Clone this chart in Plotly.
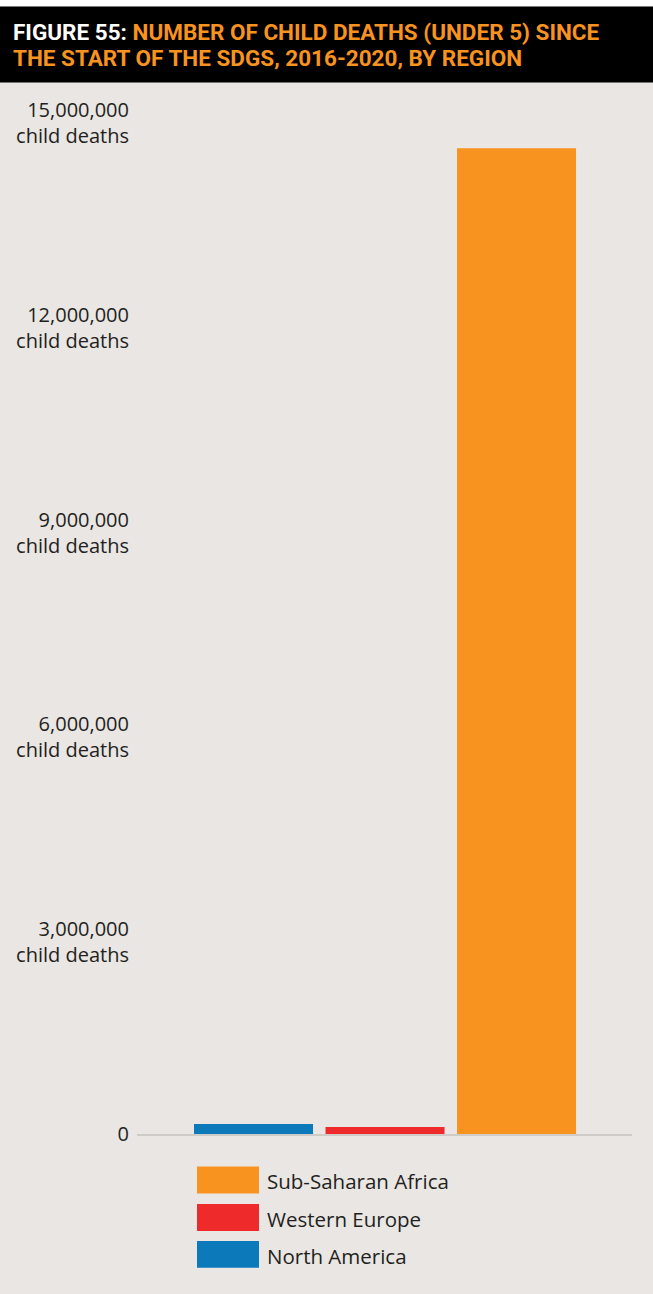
import plotly.graph_objects as go

# ---- data ----
regions = ["North America", "Western Europe", "Sub-Saharan Africa"]
deaths = [148000, 102000, 14440000]
colors = ["#0c79bb", "#ee2a2b", "#f7931e"]
tick_values = [0, 3000000, 6000000, 9000000, 12000000, 15000000]
tick_labels = ["0<br>\u00a0", "3,000,000<br>child deaths", "6,000,000<br>child deaths",
               "9,000,000<br>child deaths", "12,000,000<br>child deaths",
               "15,000,000<br>child deaths"]
legend_order = ["Sub-Saharan Africa", "Western Europe", "North America"]
title_line1_white = "FIGURE 55: "
title_line1 = "NUMBER OF CHILD DEATHS (UNDER 5) SINCE"
title_line2 = "THE START OF THE SDGS, 2016-2020, BY REGION"

W, H = 653, 1294
ML, MR, MT, MB = 137, 21, 109.5, 159.5
PW, PH = W - ML - MR, H - MT - MB


def px(x):
    return (x - ML) / PW


def py(y):
    return (H - MB - y) / PH


BG = "#e9e6e3"
FONT = "Open Sans"
TFONT = "Roboto"

fig = go.Figure()
for r, v, c in zip(regions, deaths, colors):
    fig.add_trace(go.Bar(x=[r], y=[v], marker=dict(color=c, line=dict(width=0)),
                         name=r, showlegend=False, width=0.905, hoverinfo="skip"))

shapes = [
    dict(type="rect", xref="paper", yref="paper", x0=px(-5), x1=px(W + 5),
         y0=py(6), y1=py(-5), fillcolor="white", line=dict(width=0), layer="below"),
    dict(type="rect", xref="paper", yref="paper", x0=px(-5), x1=px(W + 5),
         y0=py(82), y1=py(6), fillcolor="black", line=dict(width=0)),
]
annotations = [
    dict(xref="paper", yref="paper", x=px(11), y=py(31), xanchor="left", yanchor="middle",
         align="left", showarrow=False,
         text="<b><span style='color:white'>" + title_line1_white + "</span>" + title_line1 + "</b>",
         font=dict(family=TFONT, size=22.5, color="#f7931e")),
    dict(xref="paper", yref="paper", x=px(11), y=py(57), xanchor="left", yanchor="middle",
         align="left", showarrow=False,
         text="<b>" + title_line2 + "</b>",
         font=dict(family=TFONT, size=22.5, color="#f7931e")),
]

# manual legend with large swatches
leg_tops = [1167, 1204.5, 1241.5]
cmap = dict(zip(regions, colors))
for name, top in zip(legend_order, leg_tops):
    shapes.append(dict(type="rect", xref="paper", yref="paper", x0=px(197), x1=px(259),
                       y0=py(top + 27), y1=py(top), fillcolor=cmap[name], line=dict(width=0)))
    annotations.append(dict(xref="paper", yref="paper", x=px(265), y=py(top + 15),
                            xanchor="left", yanchor="middle", showarrow=False, text=name,
                            font=dict(family=FONT, size=20.5, color="#231f20")))

fig.update_layout(
    width=W, height=H,
    margin=dict(l=ML, r=MR, t=MT, b=MB, pad=0),
    paper_bgcolor=BG, plot_bgcolor=BG,
    bargap=0.095,
    shapes=shapes, annotations=annotations,
    showlegend=False,
    font=dict(family=FONT, color="#231f20"),
)
fig.update_xaxes(range=[-0.886, 2.878], showticklabels=False, showgrid=False,
                 showline=True, linecolor="#cfcbc7", linewidth=2, zeroline=False, ticks="")
fig.update_yaxes(range=[0, 15000000], tickvals=tick_values, ticktext=tick_labels,
                 showgrid=False, zeroline=False, showline=False, ticks="",
                 ticklabelshift=13, ticklabelstandoff=7,
                 tickfont=dict(family=FONT, size=20, color="#231f20"))

fig.write_html("out.html", config={"displayModeBar": False},
               post_script="document.body.style.margin='0';")
